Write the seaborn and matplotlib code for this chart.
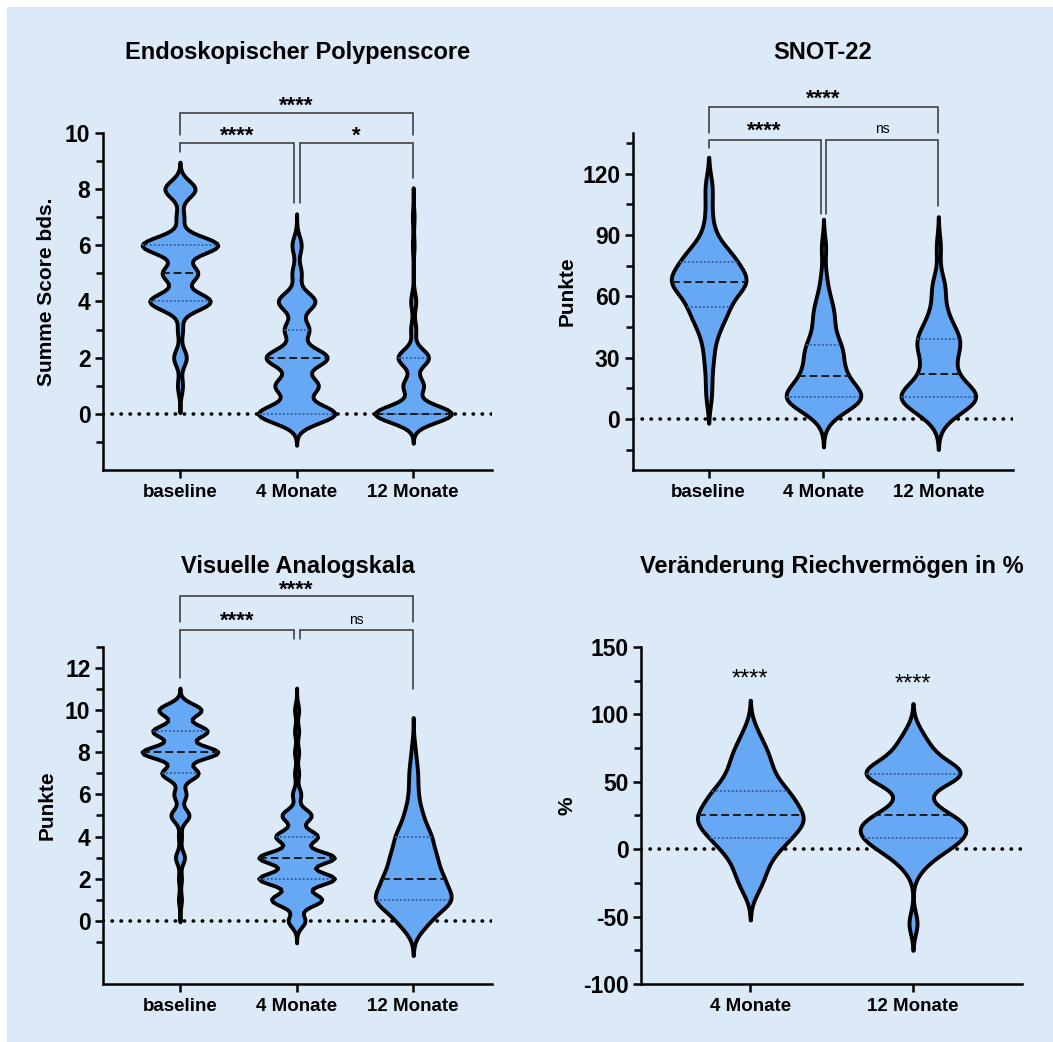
import numpy as np
import pandas as pd
import matplotlib
matplotlib.use("Agg")
import matplotlib.pyplot as plt
import seaborn as sns
from matplotlib.patches import Rectangle

sns.set_style("ticks")
plt.rcParams['font.family'] = ['Liberation Sans', 'DejaVu Sans']
plt.rcParams['font.weight'] = 'bold'
plt.rcParams['axes.labelweight'] = 'bold'
plt.rcParams['axes.unicode_minus'] = False
plt.rcParams['text.color'] = 'black'
plt.rcParams['axes.labelcolor'] = 'black'
plt.rcParams['xtick.color'] = 'black'
plt.rcParams['ytick.color'] = 'black'
plt.rcParams['axes.edgecolor'] = 'black'

BG = "#dce9f7"
FILL = "#66a8f3"

groups3 = ["baseline", "4 Monate", "12 Monate"]
groups2 = ["4 Monate", "12 Monate"]

# Endoskopischer Polypenscore: Score -> Anzahl Patienten
nps_levels = [0, 1, 2, 3, 4, 5, 6, 7, 8]
nps_baseline = [0, 2, 5, 2, 24, 14, 30, 3, 12]
nps_4m = [25, 14, 20, 8, 12, 3, 3, 0, 0]
nps_12m = [45, 12, 18, 3, 3, 0, 1, 1, 0]

# Visuelle Analogskala: Punkte -> Anzahl Patienten
vas_levels = [0, 1, 2, 3, 4, 5, 6, 7, 8, 9, 10]
vas_baseline = [0, 1, 1, 3, 1, 6, 4, 12, 25, 18, 14]
vas_4m = [4, 12, 18, 18, 10, 7, 2, 1, 1, 1, 1]
vas_12m = [7, 18, 13, 10, 8, 4, 2, 2, 1, 0, 0]

# SNOT-22 Punkte
snot_baseline = [10, 18, 26, 31, 36, 40, 43, 45, 47, 49, 50, 52, 53, 54,
                 55, 56, 58, 59, 60, 61, 62, 63, 64, 65, 65, 66, 66, 67,
                 67, 68, 68, 69, 69, 70, 70, 71, 72, 73, 74, 75, 76, 77,
                 77, 78, 79, 80, 81, 82, 83, 85, 87, 90, 95, 102, 110, 116]
snot_4m = [0, 3, 5, 6, 7, 8, 8, 9, 9, 10, 10, 10,
           11, 11, 12, 12, 13, 14, 15, 16, 17, 18, 19, 21,
           21, 22, 24, 25, 27, 28, 30, 31, 33, 34, 35, 36,
           37, 40, 42, 45, 48, 50, 52, 55, 58, 62, 70, 84]
snot_12m = [0, 2, 4, 5, 6, 7, 8, 9, 9, 10, 10, 10,
            11, 11, 12, 12, 13, 13, 14, 15, 16, 17, 19, 22,
            22, 24, 26, 28, 30, 32, 33, 35, 36, 37, 38, 39,
            40, 41, 43, 45, 47, 49, 52, 56, 62, 65, 68, 84]

# Veränderung Riechvermögen in %
smell_4m = [-30, -24, -18, -13, -9, -5, 0, 2, 4, 6, 8,
            8, 12, 14, 16, 18, 19, 20, 21, 22, 23, 25,
            25, 27, 29, 31, 33, 35, 37, 39, 40, 42, 43,
            45, 48, 52, 55, 58, 62, 66, 70, 74, 79, 88]
smell_12m = [-55, -15, -8, -4, -2, 0, 3, 5, 7, 8, 8,
             8, 12, 14, 15, 16, 17, 18, 19, 21, 23, 25,
             25, 28, 32, 38, 45, 50, 52, 54, 55, 55, 56,
             56, 57, 58, 60, 62, 65, 68, 72, 76, 80, 88]


def violins(ax, cats, samples, bws, cuts):
    for i, (cat, obs) in enumerate(zip(cats, samples)):
        obs = np.asarray(obs, dtype=float)
        df = pd.DataFrame({"Gruppe": cat, "Wert": obs})
        n0 = len(ax.lines)
        sns.violinplot(data=df, x="Gruppe", y="Wert", order=cats, ax=ax,
                       color=FILL, saturation=1, linecolor="black", linewidth=2.8,
                       width=0.65, density_norm="width", inner="quart",
                       bw_method=bws[i] / obs.std(ddof=1), cut=cuts[i])
        for k, ln in enumerate(ax.lines[n0:]):
            if k % 3 == 1:
                ln.set_color("#1a1a1a")
                ln.set_linewidth(1.4)
                ln.set_dashes((4, 2))
            else:
                ln.set_color("#2f5d9e")
                ln.set_linewidth(1.3)
                ln.set_dashes((1, 1.2))


def style(ax, cats, ylim, major, minor, ylabel, title, xlim, ylab_x):
    ax.set_facecolor("none")
    ax.axhline(0, color="black", lw=2.6, linestyle=(0, (0.1, 2.4)),
               dash_capstyle="round", zorder=0.5)
    ax.set_xlim(*xlim)
    ax.set_ylim(*ylim)
    ax.set_xticks(range(len(cats)))
    ax.set_xticklabels(cats, fontsize=13.5, fontweight="bold")
    ax.set_yticks(major)
    ax.set_yticks(minor, minor=True)
    for lbl in ax.get_yticklabels():
        lbl.set_fontweight("bold")
    ax.tick_params(axis="y", which="major", length=6, width=1.8, labelsize=16.5, pad=3)
    ax.tick_params(axis="y", which="minor", length=5, width=1.8)
    ax.tick_params(axis="x", length=6, width=1.8, pad=4)
    for s in ["top", "right"]:
        ax.spines[s].set_visible(False)
    for s in ["left", "bottom"]:
        ax.spines[s].set_linewidth(1.8)
    ax.set_xlabel("")
    ax.set_ylabel(ylabel, fontsize=15, fontweight="bold")
    ax.yaxis.set_label_coords(ylab_x, 0.53)
    ax.yaxis.label.set_va("center")
    ax.text(0.5, 1.24, title, transform=ax.transAxes, ha="center", va="center",
            fontsize=17, fontweight="bold")


def bracket(ax, x1, x2, y, y1, y2, label, ty, size=16, weight="bold"):
    ax.plot([x1, x1, x2, x2], [y1, y, y, y2], color="#333333", lw=1.1,
            clip_on=False, solid_joinstyle="miter")
    ax.text((x1 + x2) / 2, ty, label, ha="center", va="center",
            fontsize=size, fontweight=weight, clip_on=False)


fig = plt.figure(figsize=(10.53, 10.42), dpi=100, facecolor="white")
fig.patches.append(Rectangle((7 / 1053, 0), 1, 1 - 7 / 1042, transform=fig.transFigure,
                             facecolor=BG, edgecolor="none", zorder=-10))

ax1 = fig.add_axes([0.0978, 0.549, 0.3694, 0.3234])
ax2 = fig.add_axes([0.601, 0.549, 0.361, 0.3234])
ax3 = fig.add_axes([0.0978, 0.0557, 0.3694, 0.3234])
ax4 = fig.add_axes([0.609, 0.0557, 0.3616, 0.3234])

# Endoskopischer Polypenscore
violins(ax1, groups3,
        [np.repeat(nps_levels, nps_baseline), np.repeat(nps_levels, nps_4m),
         np.repeat(nps_levels, nps_12m)],
        [0.3, 0.32, 0.3], [3.2, 3.5, 3.5])
style(ax1, groups3, (-2, 10), range(0, 11, 2), range(-1, 10, 2),
      "Summe Score bds.", "Endoskopischer Polypenscore", (-0.66, 2.675), -0.144)
bracket(ax1, 0, 2, 10.7, 9.93, 9.93, "****", 10.95)
bracket(ax1, 0, 0.975, 9.64, 9.32, 7.5, "****", 9.9)
bracket(ax1, 1.025, 2, 9.64, 7.5, 8.39, "*", 9.9)

# SNOT-22
violins(ax2, groups3, [snot_baseline, snot_4m, snot_12m],
        [5.5, 5.5, 6.0], [2.2, 2.5, 2.5])
style(ax2, groups3, (-25, 140), range(0, 121, 30), range(-15, 140, 30),
      "Punkte", "SNOT-22", (-0.66, 2.65), -0.174)
bracket(ax2, 0, 2, 152.7, 140, 140, "****", 156.5)
bracket(ax2, 0, 0.975, 136.6, 132.7, 100.5, "****", 141)
bracket(ax2, 1.025, 2, 136.6, 100.5, 104, "ns", 142, size=10, weight="normal")

# Visuelle Analogskala
violins(ax3, groups3,
        [np.repeat(vas_levels, vas_baseline), np.repeat(vas_levels, vas_4m),
         np.repeat(vas_levels, vas_12m)],
        [0.3, 0.3, 0.55], [3.5, 3.5, 3.0])
style(ax3, groups3, (-3, 13), range(0, 13, 2), range(-1, 14, 2),
      "Punkte", "Visuelle Analogskala", (-0.66, 2.675), -0.144)
bracket(ax3, 0, 2, 15.4, 14.2, 14.2, "****", 15.7)
bracket(ax3, 0, 0.975, 13.8, 11.55, 13.4, "****", 14.2)
bracket(ax3, 1.025, 2, 13.8, 13.4, 11.0, "ns", 14.3, size=10, weight="normal")

# Veränderung Riechvermögen
violins(ax4, groups2, [smell_4m, smell_12m], [9.0, 8.0], [2.5, 2.5])
style(ax4, groups2, (-100, 150), range(-100, 151, 50), range(-75, 150, 50),
      "%", "Veränderung Riechvermögen in %", (-0.67, 1.67), -0.194)
ax4.text(0, 126, "****", ha="center", va="center", fontsize=17, fontweight="normal")
ax4.text(1, 122, "****", ha="center", va="center", fontsize=17, fontweight="normal")

fig.savefig("out.png", dpi=100, facecolor=fig.get_facecolor())
